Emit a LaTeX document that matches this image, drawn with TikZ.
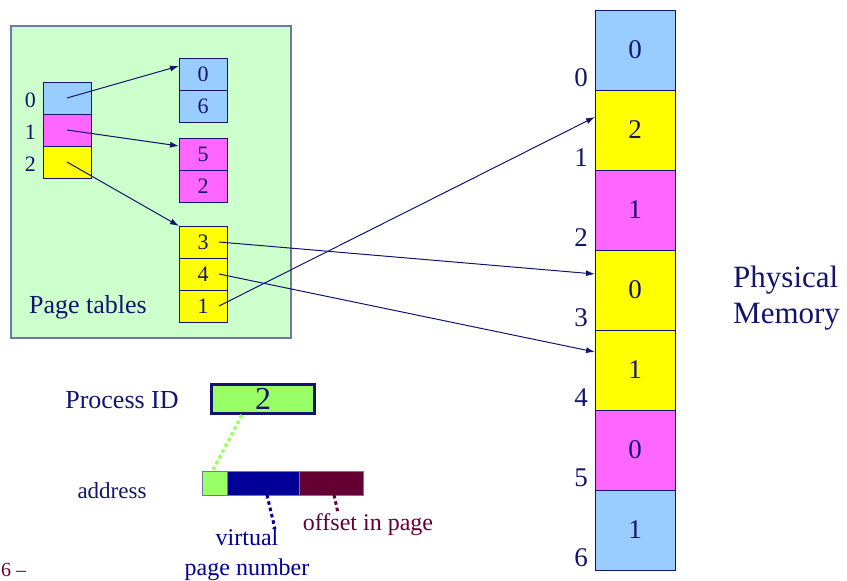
\documentclass[tikz,border=0pt]{standalone}
\usepackage{fontspec}
\setmainfont{Liberation Serif}
\usetikzlibrary{arrows.meta, positioning}

\definecolor{navytext}{RGB}{20,20,110}
\definecolor{ptgreen}{RGB}{204,255,204}
\definecolor{ptframe}{RGB}{110,120,160}
\definecolor{cellblue}{RGB}{153,204,255}
\definecolor{cellpink}{RGB}{255,102,255}
\definecolor{cellyellow}{RGB}{255,255,0}
\definecolor{pidgreen}{RGB}{153,255,102}
\definecolor{vpnblue}{RGB}{0,0,153}
\definecolor{offmaroon}{RGB}{102,0,51}

\tikzset{
  cell/.style={draw=navytext, line width=1pt, minimum width=48pt, minimum height=32pt,
    inner sep=0pt, outer sep=0pt, text=navytext, font=\fontsize{22}{24}\selectfont},
  memcell/.style={cell, minimum width=80pt, minimum height=80pt, font=\fontsize{27}{30}\selectfont},
  lbl/.style={text=navytext, inner sep=0pt, font=\fontsize{22}{24}\selectfont},
  ptr/.style={navytext, line width=1pt, -{Latex[length=9pt,width=6pt]}},
  addrpart/.style={draw=ptframe, line width=1pt, minimum height=24pt, inner sep=0pt, outer sep=0pt},
  dots/.style={line width=3.5pt, dash pattern=on 3.5pt off 3pt},
}

\begin{document}
\begin{tikzpicture}[x=1pt, y=-1pt]
\useasboundingbox (0,0) rectangle (847,581);

% page tables
\node[draw=ptframe, fill=ptgreen, line width=1.5pt, minimum width=280pt, minimum height=312pt] (ptbox) at (151,182) {};
\node[lbl, anchor=base, font=\fontsize{26}{30}\selectfont] (pttitle) at (88,313) {Page tables};
\foreach \c [count = \i from 0] in {cellblue,cellpink,cellyellow}{
	\node[cell, fill=\c] (vp\i) at (67,98+32*\i) {};
	\node[lbl, left=7pt of vp\i, yshift=-2pt] (vplbl\i) {\i};
}
\foreach \v [count = \i] in {0,6}{
	\node[cell, fill=cellblue] (pta\i) at (203,42+32*\i) {\v};
}
\foreach \v [count = \i] in {5,2}{
	\node[cell, fill=cellpink] (ptb\i) at (203,122+32*\i) {\v};
}
\foreach \v [count = \i] in {3,4,1}{
	\node[cell, fill=cellyellow] (ptc\i) at (203,210+32*\i) {\v};
}

% physical memory
\foreach \v/\c [count = \i from 0] in {0/cellblue,2/cellyellow,1/cellpink,0/cellyellow,1/cellyellow,0/cellpink,1/cellblue}{
	\node[memcell, fill=\c] (mem\i) at (635,50+80*\i) {\v};
	\node[lbl, anchor=base east, font=\fontsize{27}{30}\selectfont] (memlbl\i) at (588,86+80*\i) {\i};
}
\node[lbl, anchor=north west, align=left, font=\fontsize{31}{36}\selectfont] (memtitle) at (733,266) {Physical\\Memory};

\draw[ptr] (vp0.center) -- ([yshift=8pt]pta1.west);
\draw[ptr] (vp1.center) -- ([yshift=8pt]ptb1.west);
\draw[ptr] (vp2.center) -- (ptc1.north west);
\draw[ptr] ([xshift=16pt]ptc1.center) -- ([yshift=16pt]mem3.west);
\draw[ptr] ([xshift=16pt]ptc2.center) -- ([yshift=18pt]mem4.west);
\draw[ptr] ([xshift=16pt]ptc3.center) -- ([yshift=13pt]mem1.west);

% process id and address
\node[lbl, anchor=base, font=\fontsize{26}{30}\selectfont] (pidlbl) at (122,408) {Process ID};
\node[draw=navytext, line width=3pt, fill=pidgreen, minimum width=103pt, minimum height=29pt,
  inner sep=0pt, text=navytext, font=\fontsize{32}{34}\selectfont] (pid) at (263,399) {2};
\node[lbl, anchor=base, font=\fontsize{23}{26}\selectfont] (addrlbl) at (112,498) {address};
\node[addrpart, fill=pidgreen, minimum width=25pt] (addrpid) at (214.5,483) {};
\node[addrpart, fill=vpnblue, minimum width=72pt, right=0pt of addrpid] (addrvpn) {};
\node[addrpart, fill=offmaroon, minimum width=64pt, right=0pt of addrvpn] (addroff) {};

\node[lbl, anchor=north, align=center, font=\fontsize{24}{30}\selectfont, text=vpnblue] (vpnlbl) at (247,529) {virtual\\page number};
\node[lbl, anchor=base, font=\fontsize{24}{28}\selectfont, text=offmaroon] (offlbl) at (368,530) {offset in page};

\draw[dots, pidgreen] ([xshift=-21pt]pid.south) -- ([xshift=-2pt]addrpid.north);
\draw[dots, vpnblue, line width=3pt] ([xshift=4pt]addrvpn.south) -- ([xshift=28pt]vpnlbl.north);
\draw[dots, offmaroon, line width=3pt] ([xshift=3pt]addroff.south) -- ([xshift=-30pt]offlbl.north);

% slide number
\node[lbl, anchor=base west, font=\fontsize{20}{24}\selectfont, text=offmaroon] (slideno) at (1,576) {6 --};
\end{tikzpicture}
\end{document}
